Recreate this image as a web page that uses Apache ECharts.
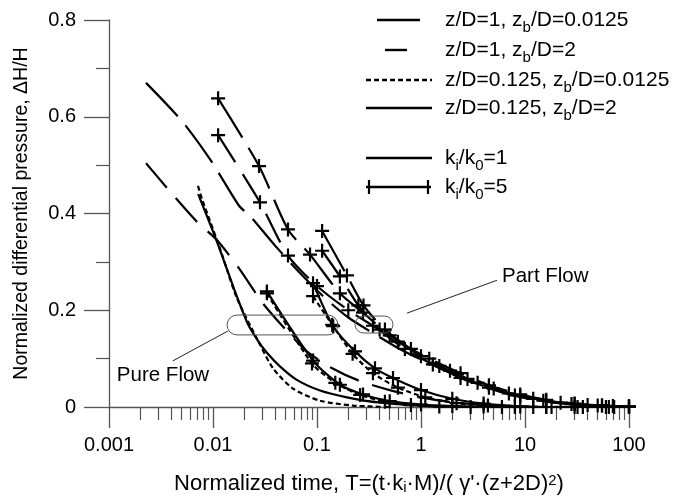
<!DOCTYPE html>
<html>
<head>
<meta charset="utf-8">
<script src="https://cdn.jsdelivr.net/npm/echarts@6/dist/echarts.min.js"></script>
<style>html,body{margin:0;padding:0;background:#fff}#c{width:678px;height:500px}</style>
</head>
<body>
<div id="c"></div>
<script>
// ---------- axis ticks ----------
const xTicks = [0.001, 0.01, 0.1, 1, 10, 100];
const xTickLabels = ['0.001', '0.01', '0.1', '1', '10', '100'];
const xMinorTicks = [0.002,0.003,0.004,0.005,0.006,0.007,0.008,0.009,
  0.02,0.03,0.04,0.05,0.06,0.07,0.08,0.09,
  0.2,0.3,0.4,0.5,0.6,0.7,0.8,0.9,
  2,3,4,5,6,7,8,9,
  20,30,40,50,60,70,80,90];
const yTickLabels = ['0', '0.2', '0.4', '0.6', '0.8'];

// ---------- legend texts ----------
const legendLabels = [
  'z/D=1, z{s|b}/D=0.0125',
  'z/D=1, z{s|b}/D=2',
  'z/D=0.125, z{s|b}/D=0.0125',
  'z/D=0.125, z{s|b}/D=2',
  'k{s|i}/k{s|0}=1',
  'k{s|i}/k{s|0}=5'
];

// ---------- data: [T, dH/H] ----------
// k_i/k_0 = 1
const z1_zb00125_k1 = [[0.00227,0.670],[0.00503,0.591],[0.00978,0.506],[0.0178,0.416],[0.0227,0.395],[0.0394,0.334],[0.07,0.275],[0.12,0.225],[0.2,0.185],[0.35,0.152],[0.6,0.122],[1,0.098],[2,0.068],[4,0.042],[8,0.023],[16,0.011],[32,0.005],[100,0.001]];
const z1_zb2_k1 = [[0.00227,0.504],[0.00395,0.443],[0.007,0.383],[0.0109,0.345],[0.018,0.285],[0.03,0.215],[0.05,0.16],[0.08,0.115],[0.14,0.08],[0.25,0.055],[0.5,0.035],[1,0.02],[2,0.01],[5,0.004],[10,0.001],[30,0]];
const z0125_zb00125_k1 = [[0.00717,0.457],[0.00784,0.430],[0.0117,0.327],[0.017,0.225],[0.0271,0.137],[0.0378,0.080],[0.0588,0.038],[0.107,0.013],[0.222,0.003],[0.5,0]];
const z0125_zb2_k1 = [[0.0072,0.44],[0.0109,0.342],[0.017,0.228],[0.0216,0.172],[0.0265,0.140],[0.033,0.112],[0.044,0.084],[0.064,0.056],[0.107,0.034],[0.194,0.020],[0.403,0.009],[1,0.003],[3,0]];
// k_i/k_0 = 5
const z1_zb00125_k5 = [[0.0112,0.638],[0.0277,0.498],[0.0526,0.367],[0.0857,0.315],[0.166,0.235],[0.277,0.195],[0.5,0.148],[1,0.105],[1.9,0.075],[3.5,0.05],[7,0.028],[12,0.017],[22,0.009],[40,0.004],[70,0.002],[100,0.001]];
const z1_zb2_k5 = [[0.0112,0.562],[0.0283,0.423],[0.0526,0.313],[0.1,0.25],[0.2,0.2],[0.345,0.168],[0.6,0.135],[1.2,0.1],[2.4,0.07],[4.5,0.045],[9,0.026],[16,0.015],[30,0.007],[55,0.003],[100,0.001]];
const z1_zb00125_k5b = [[0.112,0.364],[0.194,0.272],[0.28,0.21],[0.45,0.16],[0.8,0.12],[1.5,0.085],[2.8,0.058],[5,0.038],[9,0.023],[16,0.013],[30,0.006],[55,0.003],[100,0.001]];
const z1_zb2_k5b = [[0.112,0.323],[0.166,0.27],[0.25,0.21],[0.4,0.16],[0.7,0.12],[1.3,0.088],[2.4,0.06],[4.5,0.04],[8,0.024],[15,0.013],[28,0.006],[50,0.003],[100,0.001]];
const z0125_zb2_k5 = [[0.033,0.239],[0.0916,0.096],[0.166,0.046],[0.277,0.026],[0.5,0.012],[1,0.005],[2,0.002],[4,0.001],[8,0],[16,0],[32,0],[64,0]];
const z0125_zb00125_k5 = [[0.033,0.235],[0.0895,0.09],[0.15,0.05],[0.26,0.025],[0.45,0.011],[0.8,0.004],[1.5,0.001],[3,0],[6,0],[12,0]];
const z0125_zb2_k5b = [[0.0916,0.256],[0.143,0.167],[0.232,0.115],[0.361,0.08],[0.538,0.06],[1,0.035],[2,0.017],[4,0.007],[8,0.002],[16,0],[30,0],[60,0],[100,0]];
const z0125_zb00125_k5b = [[0.0916,0.229],[0.14,0.17],[0.22,0.11],[0.345,0.07],[0.6,0.04],[1.1,0.02],[2.2,0.008],[4.4,0.003],[9,0.001],[18,0],[36,0],[72,0]];

// ---------- annotations (data coordinates) ----------
const pureFlowBox = [[0.01365, 0.19], [0.159, 0.149]];
const partFlowBox = [[0.232, 0.188], [0.538, 0.153]];
const pureFlowLeader = [[0.0139, 0.157], [0.00412, 0.0955]];
const partFlowLeader = [[0.733, 0.194], [5.38, 0.262]];
const pureFlowLabelAt = [0.00119, 0.0647];
const partFlowLabelAt = [6.01, 0.27];

const curves = [
  {data: z1_zb00125_k1, dash: 'long', plus: false},
  {data: z1_zb2_k1, dash: 'mid', plus: false},
  {data: z0125_zb00125_k1, dash: 'short', plus: false},
  {data: z0125_zb2_k1, dash: 'solid', plus: false},
  {data: z1_zb00125_k5, dash: 'long', plus: true},
  {data: z1_zb2_k5, dash: 'mid', plus: true},
  {data: z1_zb00125_k5b, dash: 'long', plus: true},
  {data: z1_zb2_k5b, dash: 'mid', plus: true},
  {data: z0125_zb2_k5, dash: 'solid', plus: true},
  {data: z0125_zb00125_k5, dash: 'short', plus: true},
  {data: z0125_zb2_k5b, dash: 'solid', plus: true},
  {data: z0125_zb00125_k5b, dash: 'short', plus: true}
];

const FONT = '"Liberation Sans", Arial, Helvetica, sans-serif';
const plusPath = 'path://M-1.1,-7H1.1V7H-1.1Z M-7,-1.1H7V1.1H-7Z';
function dashOf(k) {
  if (k === 'long') return [46, 12];
  if (k === 'mid') return [32, 14];
  if (k === 'short') return [5, 3];
  return 'solid';
}

const chart = echarts.init(document.getElementById('c'));

const series = curves.map((c, i) => ({
  type: 'line',
  name: 'curve' + i,
  data: c.data,
  xAxisIndex: 0,
  yAxisIndex: 0,
  smooth: 0.25,
  showSymbol: c.plus,
  symbol: c.plus ? plusPath : 'none',
  symbolSize: 14,
  itemStyle: {color: '#000'},
  lineStyle: {color: '#000', width: 2.2, type: dashOf(c.dash)},
  emphasis: {disabled: true},
  silent: true,
  z: 3
}));

const axisGrey = '#555';

chart.setOption({
  animation: false,
  backgroundColor: '#fff',
  grid: {left: 109, right: 49, top: 20, bottom: 91, containLabel: false},
  xAxis: [{
    type: 'log', logBase: 10, min: 0.001, max: 100, position: 'bottom',
    axisLine: {show: true, onZero: false, lineStyle: {color: axisGrey, width: 1.3}},
    axisTick: {show: true, inside: false, length: 21, lineStyle: {color: axisGrey, width: 1.3}},
    axisLabel: {margin: 28, fontSize: 20, color: '#000', fontFamily: FONT,
      formatter: v => xTickLabels[xTicks.findIndex(t => Math.abs(Math.log10(t) - Math.log10(v)) < 1e-6)]},
    splitLine: {show: false},
    name: 'Normalized time, T=(t·k{sub|i}·M)/( γ\'·(z+2D){sup|2})',
    nameLocation: 'middle', nameGap: 66,
    nameTextStyle: {fontSize: 22, color: '#000', fontFamily: FONT,
      rich: {sub: {fontSize: 15, verticalAlign: 'bottom', lineHeight: 15, fontFamily: FONT, color: '#000'},
             sup: {fontSize: 15, verticalAlign: 'top', lineHeight: 15, fontFamily: FONT, color: '#000'}}}
  }, {
    type: 'log', logBase: 10, min: 0.001, max: 100, position: 'bottom',
    axisLine: {show: false},
    axisTick: {show: true, inside: false, length: 13, customValues: xMinorTicks, lineStyle: {color: axisGrey, width: 1.2}},
    axisLabel: {show: false},
    splitLine: {show: false}
  }],
  yAxis: [{
    type: 'value', min: 0, max: 0.8, interval: 0.2,
    axisLine: {show: true, lineStyle: {color: axisGrey, width: 1.3}},
    axisTick: {show: true, inside: false, length: 25, lineStyle: {color: axisGrey, width: 1.3}},
    minorTick: {show: true, splitNumber: 2, length: 13, lineStyle: {color: axisGrey, width: 1.2}},
    axisLabel: {margin: 33, fontSize: 20, color: '#000', fontFamily: FONT,
      formatter: v => yTickLabels[Math.round(v / 0.2)]},
    splitLine: {show: false},
    name: 'Normalized differential pressure, ΔH/H',
    nameLocation: 'middle', nameGap: 77, nameRotate: 90,
    nameTextStyle: {fontSize: 19.5, color: '#000', fontFamily: FONT}
  }],
  series: series
});

// ---------- legend & annotations (graphic) ----------
const legendRowsY = [20, 50, 80, 108, 158, 187];
const legendLines = [
  {x1: 377, x2: 420, dash: null},
  {x1: 385, x2: 407, dash: null},
  {x1: 366, x2: 432, dash: [5, 3]},
  {x1: 366, x2: 432, dash: null},
  {x1: 366, x2: 432, dash: null},
  {x1: 366, x2: 431, dash: null, plus: [369, 428]}
];
const richText = {s: {fontSize: 15, verticalAlign: 'bottom', lineHeight: 15, fontFamily: FONT, fill: '#000'}};
const gfx = [];
legendLines.forEach((l, i) => {
  const y = legendRowsY[i];
  gfx.push({type: 'line', shape: {x1: l.x1, y1: y, x2: l.x2, y2: y},
    style: {stroke: '#000', lineWidth: 2.4, lineDash: l.dash || null}, silent: true, z: 10});
  if (l.plus) {
    l.plus.forEach(px => {
      gfx.push({type: 'line', shape: {x1: px, y1: y - 7, x2: px, y2: y + 7}, style: {stroke: '#000', lineWidth: 2.2}, silent: true, z: 10});
    });
  }
  gfx.push({type: 'text', x: 445, y: y, silent: true, z: 10,
    style: {text: legendLabels[i], font: '21px ' + FONT, fill: '#000', verticalAlign: 'middle', align: 'left',
      lineHeight: 30, rich: richText}});
});

const px = p => chart.convertToPixel({gridIndex: 0}, p);
function capsule(box) {
  const a = px(box[0]), b = px(box[1]);
  const x = Math.min(a[0], b[0]), y = Math.min(a[1], b[1]);
  const w = Math.abs(b[0] - a[0]), h = Math.abs(b[1] - a[1]);
  return {type: 'rect', shape: {x: x, y: y, width: w, height: h, r: h / 2},
    style: {fill: null, stroke: '#555', lineWidth: 1}, silent: true, z: 9};
}
function leader(seg) {
  const a = px(seg[0]), b = px(seg[1]);
  return {type: 'line', shape: {x1: a[0], y1: a[1], x2: b[0], y2: b[1]},
    style: {stroke: '#222', lineWidth: 1}, silent: true, z: 9};
}
function label(txt, at) {
  const p = px(at);
  return {type: 'text', x: p[0], y: p[1], silent: true, z: 9,
    style: {text: txt, font: '20.5px ' + FONT, fill: '#000', verticalAlign: 'middle', align: 'left'}};
}
gfx.push(capsule(pureFlowBox), capsule(partFlowBox), leader(pureFlowLeader), leader(partFlowLeader),
  label('Pure Flow', pureFlowLabelAt), label('Part Flow', partFlowLabelAt));

chart.setOption({graphic: {elements: gfx}});
</script>
</body>
</html>
